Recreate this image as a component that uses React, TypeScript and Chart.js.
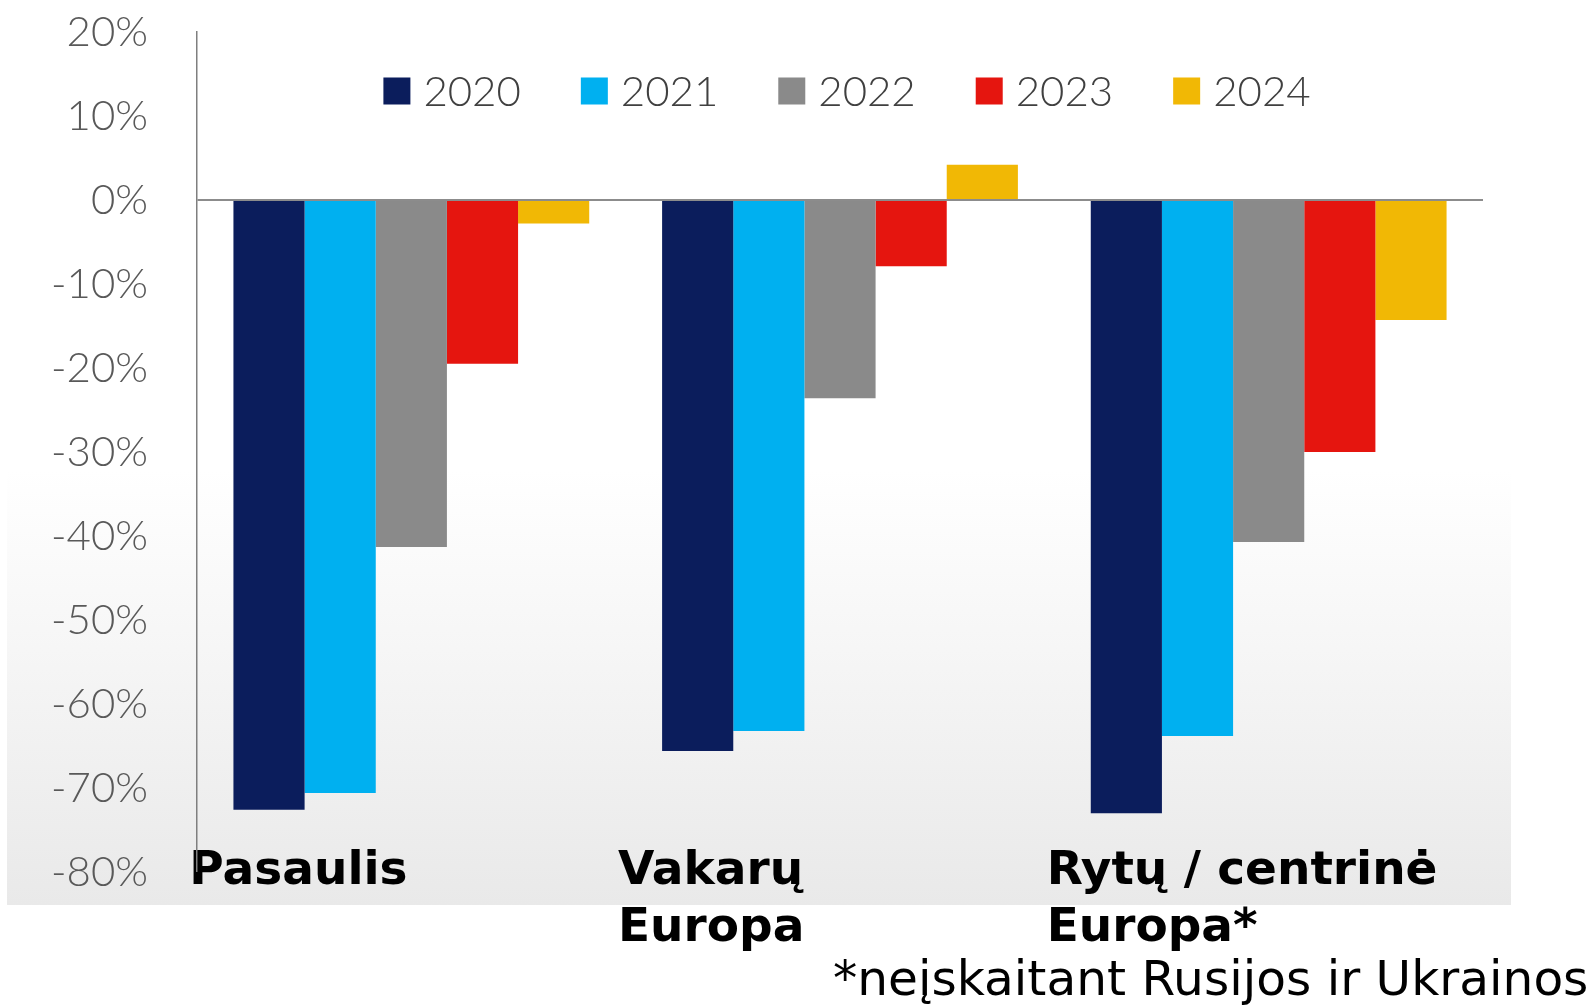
import React, { useEffect, useRef } from "react";
import { Chart, registerables } from "chart.js";

Chart.register(...registerables);

const categories: (string | string[])[] = [
  "Pasaulis",
  ["Vakarų", "Europa"],
  ["Rytų / centrinė", "Europa*"],
];
const seriesLabels = ["2020", "2021", "2022", "2023", "2024"];
const seriesColors = ["#0b1d5c", "#00b0f0", "#8a8a8a", "#e5150f", "#f1b805"];
const values2020 = [-72.6, -65.6, -73.0];
const values2021 = [-70.6, -63.2, -63.8];
const values2022 = [-41.3, -23.6, -40.7];
const values2023 = [-19.5, -7.9, -30.0];
const values2024 = [-2.8, 4.2, -14.3];
const seriesValues = [values2020, values2021, values2022, values2023, values2024];
const yMin = -80;
const yMax = 20;
const yStep = 10;
const footnote = "*neįskaitant Rusijos ir Ukrainos";

const W = 1593;
const H = 1005;

const bgPlugin = {
  id: "bgPanel",
  beforeDraw(chart: any) {
    const ctx = chart.ctx;
    ctx.save();
    ctx.fillStyle = "#ffffff";
    ctx.fillRect(0, 0, chart.width, chart.height);
    const g = ctx.createLinearGradient(0, 0, 0, 905);
    g.addColorStop(0, "#ffffff");
    g.addColorStop(0.52, "#ffffff");
    g.addColorStop(1, "#e9e9e9");
    ctx.fillStyle = g;
    ctx.fillRect(7, 0, 1504, 905);
    ctx.restore();
  },
};

const legendPlugin = {
  id: "innerLegend",
  afterDatasetsDraw(chart: any) {
    const ctx = chart.ctx;
    const area = chart.chartArea;
    const font = "300 42px Lato, 'Open Sans', sans-serif";
    ctx.save();
    ctx.font = font;
    const box = 27;
    const gap = 13;
    const itemGap = 60;
    const items = chart.data.datasets.map((d: any) => ({
      label: d.label,
      color: d.backgroundColor,
      w: box + gap + ctx.measureText(d.label).width,
    }));
    const total = items.reduce((s: number, it: any) => s + it.w, 0) + itemGap * (items.length - 1);
    let x = (area.left + area.right) / 2 - total / 2 + 7;
    const cy = area.top + 59;
    ctx.textBaseline = "middle";
    ctx.textAlign = "left";
    for (const it of items) {
      ctx.fillStyle = it.color;
      ctx.fillRect(x, cy - box / 2, box, box);
      ctx.fillStyle = "#404040";
      ctx.fillText(it.label, x + box + gap, cy + 1);
      x += it.w + itemGap;
    }
    ctx.restore();
  },
};

export default function App() {
  const ref = useRef<HTMLCanvasElement | null>(null);

  useEffect(() => {
    if (!ref.current) return;
    const chart = new Chart(ref.current, {
      type: "bar",
      data: {
        labels: categories,
        datasets: seriesLabels.map((label, i) => ({
          label,
          data: seriesValues[i],
          backgroundColor: seriesColors[i],
          borderWidth: 0,
          categoryPercentage: 0.83,
          barPercentage: 1.0,
        })),
      },
      options: {
        animation: false,
        responsive: false,
        devicePixelRatio: 1,
        layout: { padding: { top: 32, right: 110, bottom: 0, left: 0 } },
        plugins: {
          legend: { display: false },
          tooltip: { enabled: false },
        },
        scales: {
          x: {
            grid: { display: false },
            border: { display: false },
            ticks: {
              align: "start",
              mirror: true,
              labelOffset: -222,
              padding: -28,
              maxRotation: 0,
              minRotation: 0,
              autoSkip: false,
              color: "#000000",
              font: { family: "'DejaVu Sans', sans-serif", weight: "bold", size: 47, lineHeight: 1.21 },
            },
            afterFit(scale: any) {
              scale.height = H - 872;
              scale.paddingLeft = 0;
              scale.paddingRight = 0;
              scale.paddingTop = 0;
              scale.paddingBottom = 0;
            },
          },
          y: {
            min: yMin,
            max: yMax,
            ticks: {
              stepSize: yStep,
              padding: 49,
              color: "#595959",
              font: { family: "Lato, 'Open Sans', sans-serif", weight: "300", size: 42 },
              callback: (v: any) => `${v}%`,
            },
            grid: {
              drawTicks: false,
              color: (c: any) => (c.tick && c.tick.value === 0 ? "#8c8c8c" : "rgba(0,0,0,0)"),
              lineWidth: (c: any) => (c.tick && c.tick.value === 0 ? 2 : 0),
            },
            border: { display: true, color: "#7f7f7f", width: 1.5 },
            afterFit(scale: any) {
              scale.width = 197;
              scale.paddingTop = 0;
              scale.paddingBottom = 0;
              scale.paddingLeft = 0;
              scale.paddingRight = 0;
            },
          },
        },
      },
      plugins: [bgPlugin, legendPlugin],
    });
    return () => chart.destroy();
  }, []);

  return (
    <div style={{ position: "fixed", left: 0, top: 0, width: W, height: H, overflow: "hidden", background: "#fff" }}>
      <canvas ref={ref} width={W} height={H} style={{ display: "block", width: W, height: H }} />
      <div
        style={{
          position: "absolute",
          left: 833,
          top: 954,
          fontFamily: "'DejaVu Sans', sans-serif",
          fontSize: 48.6,
          lineHeight: "48px",
          color: "#000",
          whiteSpace: "nowrap",
        }}
      >
        {footnote}
      </div>
    </div>
  );
}
